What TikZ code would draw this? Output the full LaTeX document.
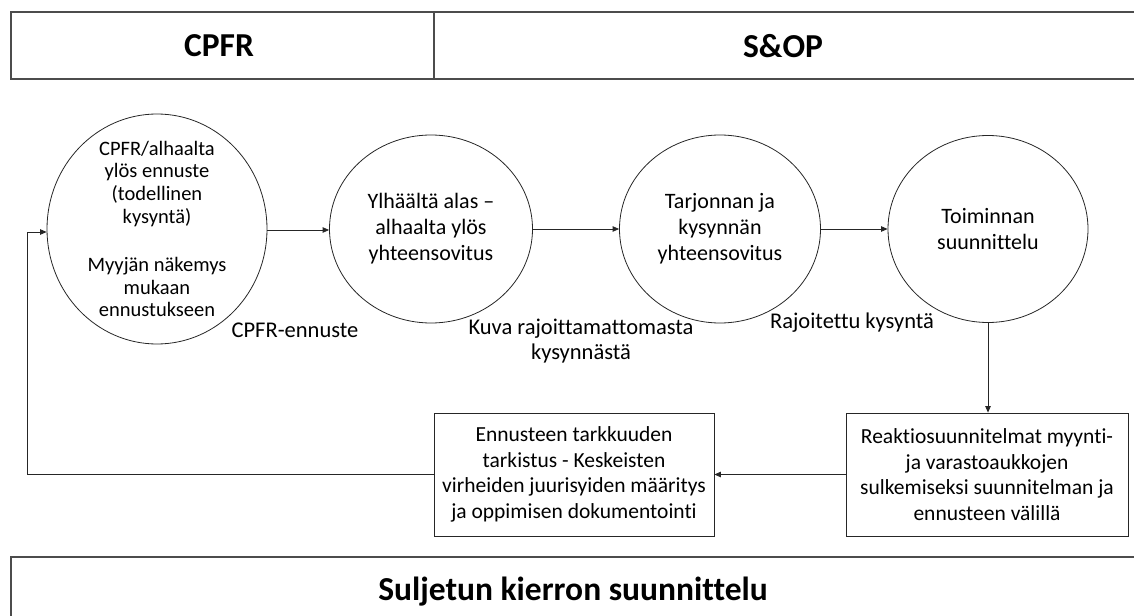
\documentclass[tikz,border=0pt]{standalone}
\usepackage{fontspec}
\setmainfont{Carlito}[Ligatures=NoCommon]
\usetikzlibrary{shapes.geometric,arrows.meta}
\tikzset{
  px/.style={x=1bp,y=-1bp},
  line/.style={draw=black!85, line width=0.8bp},
  arr/.style={line, -{Triangle[length=6.5bp,width=5.5bp]}},
  hdr/.style={draw=black!70, line width=1.2bp},
  hdrtext/.style={font=\fontsize{33.5bp}{40bp}\selectfont\bfseries},
  bubble/.style={ellipse, line, inner sep=0pt, align=center, font=\fontsize{22bp}{26bp}\selectfont},
  boxnode/.style={rectangle, line, inner sep=0pt, align=center, font=\fontsize{21.5bp}{25.5bp}\selectfont},
  lbl/.style={inner sep=0pt, align=center, font=\fontsize{22.5bp}{24.5bp}\selectfont}
}
\begin{document}
\begin{tikzpicture}[px]
\useasboundingbox (0,0) rectangle (1134,616);
\clip (0,0) rectangle (1134,616);
% header boxes
\draw[hdr] (11,12) rectangle (434,79);
\draw[hdr] (434,12) rectangle (1145,79);
\node[hdrtext] (cpfr) at (219,46) {CPFR};
\node[hdrtext] (sop) at (783,46) {S\&OP};
% footer box
\draw[hdr] (11,557) rectangle (1145,630);
\node[hdrtext] (loop) at (573,592) {Suljetun kierron suunnittelu};
% circles
\node[bubble, minimum width=220bp, minimum height=230bp] (c1) at (157,229) {};
\node[lbl, font=\fontsize{20.5bp}{22.6bp}\selectfont] (c1t) at (c1.center)
  {CPFR/alhaalta\\ylös ennuste\\(todellinen\\kysyntä)\\[26bp]Myyjän näkemys\\mukaan\\ennustukseen};
\node[bubble, minimum width=203bp, minimum height=188bp] (c2) at (431,229)
  {Ylhäältä alas –\\alhaalta ylös\\yhteensovitus};
\node[bubble, minimum width=201bp, minimum height=188bp] (c3) at (720,229)
  {Tarjonnan ja\\kysynnän\\yhteensovitus};
\node[bubble, minimum width=200bp, minimum height=187bp] (c4) at (988,229)
  {Toiminnan\\suunnittelu};
% boxes
\node[boxnode, minimum width=280bp, minimum height=123bp] (lb) at (574,474.5)
  {Ennusteen tarkkuuden\\tarkistus - Keskeisten\\virheiden juurisyiden määritys\\ja oppimisen dokumentointi};
\node[boxnode, minimum width=282bp, minimum height=123bp] (rb) at (987,474.5)
  {Reaktiosuunnitelmat myynti-\\ja varastoaukkojen\\sulkemiseksi suunnitelman ja\\ennusteen välillä};
% labels
\node[lbl] (l1) at (295,330) {CPFR-ennuste};
\node[lbl] (l2) at (581,341) {Kuva rajoittamattomasta\\kysynnästä};
\node[lbl] (l3) at (852,323) {Rajoitettu kysyntä};
% connectors
\draw[arr] (c1.east |- 0,230) -- (c2.west |- 0,230);
\draw[arr] (c2.east) -- (c3.west);
\draw[arr] (c3.east) -- (c4.west);
\draw[arr] (c4.south) -- (c4.south |- rb.north);
\draw[arr] (rb.west) -- (lb.east);
\coordinate (fb) at (27,474.5);
\draw[arr] (lb.west) -- (fb) |- (c1.west |- 0,232);
\end{tikzpicture}
\end{document}
